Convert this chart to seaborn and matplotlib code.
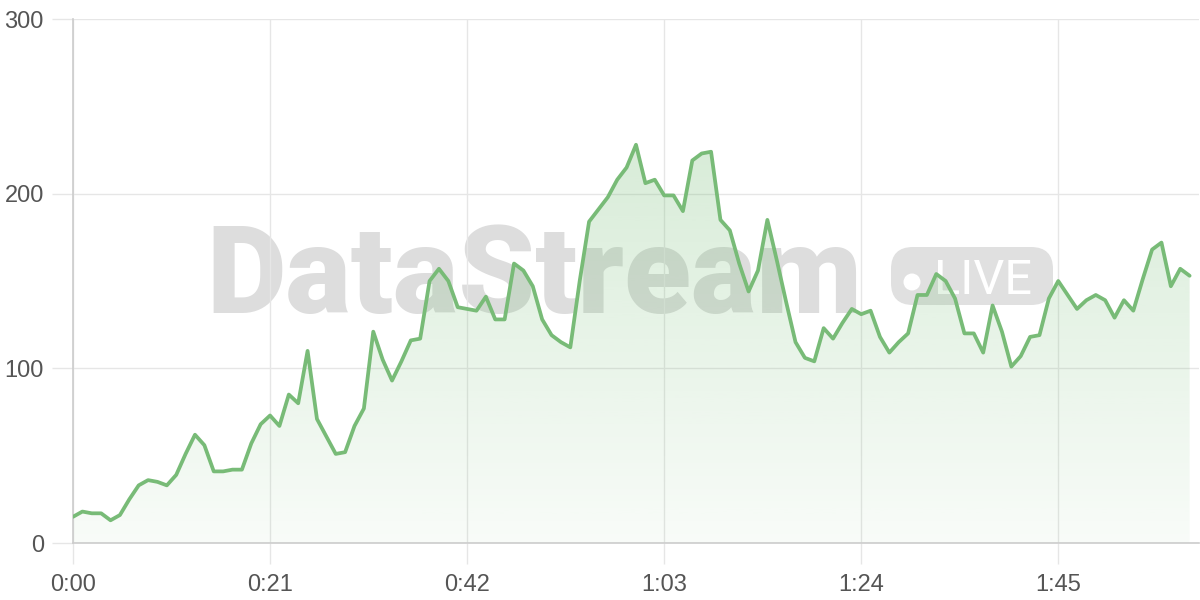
import matplotlib
matplotlib.use("Agg")
import matplotlib.pyplot as plt
from matplotlib.patches import FancyBboxPatch, Circle
from matplotlib.ticker import FuncFormatter
import numpy as np
import pandas as pd
import seaborn as sns

# one reading per second, 0:00 .. 1:59
values = [15, 18, 17, 17, 13, 16, 25, 33, 36, 35,
          33, 39, 51, 62, 56, 41, 41, 42, 42, 57,
          68, 73, 67, 85, 80, 110, 71, 61, 51, 52,
          67, 77, 121, 105, 93, 104, 116, 117, 150, 157,
          150, 135, 134, 133, 141, 128, 128, 160, 156, 147,
          128, 119, 115, 112, 150, 184, 191, 198, 208, 215,
          228, 206, 208, 199, 199, 190, 219, 223, 224, 185,
          179, 160, 144, 156, 185, 162, 138, 115, 106, 104,
          123, 117, 126, 134, 131, 133, 118, 109, 115, 120,
          142, 142, 154, 150, 140, 120, 120, 109, 136, 121,
          101, 107, 118, 119, 140, 150, 142, 134, 139, 142,
          139, 129, 139, 133, 151, 168, 172, 147, 157, 153]
seconds = list(range(len(values)))
x_ticks = [0, 21, 42, 63, 84, 105]
y_ticks = [0, 100, 200, 300]

df = pd.DataFrame({"t": seconds, "v": values})

sns.set_theme(style="whitegrid")
plt.rcParams['font.family'] = ['Liberation Sans', 'DejaVu Sans']

green = "#78bb77"

fig = plt.figure(figsize=(12, 6), dpi=100)
fig.patch.set_facecolor("white")

# background layer for the watermark (pixel coordinates)
bg = fig.add_axes([0, 0, 1, 1], zorder=0)
bg.set_xlim(0, 1200)
bg.set_ylim(600, 0)
bg.axis("off")
wm = bg.text(534, 280, "DataStream", fontsize=90, fontweight="heavy", family="Roboto",
             color="#dddddd", ha="center", va="center")
bg.add_patch(FancyBboxPatch((891, 247), 162, 58, boxstyle="round,pad=0,rounding_size=22",
                            fc="#e0e0e0", ec="none"))
bg.add_patch(Circle((912, 282), 8.5, fc="white", ec="none"))
bg.text(983, 281, "LIVE", fontsize=35, color="white", family="Roboto",
        ha="center", va="center")

ax = fig.add_axes([73 / 1200, 57 / 600, 1126 / 1200, 524 / 600], zorder=1)
ax.set_facecolor("none")

# gradient fill under the line
poly = ax.fill_between(df["t"], df["v"], 0, color="none", lw=0)
ymax = max(values)
alpha = np.linspace(0.05, 0.29, 256).reshape(-1, 1)
grad = np.zeros((256, 1, 4))
grad[..., 0] = 120 / 255
grad[..., 1] = 190 / 255
grad[..., 2] = 120 / 255
grad[..., 3] = alpha
im = ax.imshow(grad, extent=[0, seconds[-1], 0, ymax], origin="lower", aspect="auto", zorder=1.5)
im.set_clip_path(poly.get_paths()[0], transform=ax.transData)

sns.lineplot(data=df, x="t", y="v", ax=ax, color=green, linewidth=2.7, zorder=3)

ax.set_xlim(0, 120)
ax.set_ylim(0, 300)
ax.set_xticks(x_ticks)
ax.set_yticks(y_ticks)
ax.xaxis.set_major_formatter(FuncFormatter(lambda v, p: "%d:%02d" % (v // 60, v % 60)))
ax.set_xlabel("")
ax.set_ylabel("")
ax.grid(True, color="#e6e6e6", linewidth=1)
ax.tick_params(axis="both", bottom=True, left=True, length=15, width=1, color="#e6e6e6",
               labelsize=17, labelcolor="#555555")
ax.tick_params(axis="x", pad=7)
ax.tick_params(axis="y", pad=6)
for s in ["top", "right"]:
    ax.spines[s].set_visible(False)
for s in ["left", "bottom"]:
    ax.spines[s].set_color("#cccccc")
    ax.spines[s].set_linewidth(1.2)

# fit watermark width to the reference
fig.canvas.draw()
w = wm.get_window_extent().width
wm.set_fontsize(90 * 655 / w)

fig.savefig("out.png", dpi=100)
